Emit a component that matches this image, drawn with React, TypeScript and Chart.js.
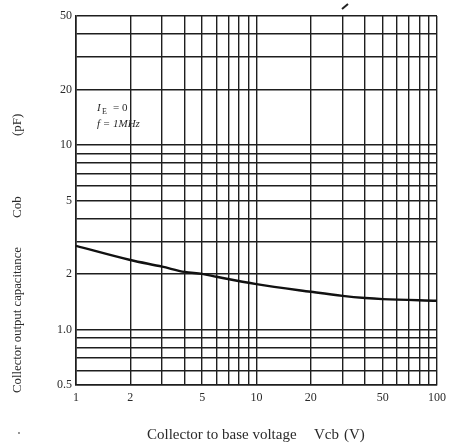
import React, { useEffect, useRef } from "react";
import { Chart, registerables } from "chart.js";

Chart.register(...registerables);

const vcb = [1, 2, 3, 4, 5, 6, 10, 20, 30, 40, 50, 100];
const cob = [2.84, 2.38, 2.19, 2.05, 2.0, 1.93, 1.76, 1.6, 1.52, 1.48, 1.46, 1.43];

const xGrid = [1, 2, 3, 4, 5, 6, 7, 8, 9, 10, 20, 30, 40, 50, 60, 70, 80, 90, 100];
const yGrid = [0.5, 0.6, 0.7, 0.8, 0.9, 1, 2, 3, 4, 5, 6, 7, 8, 9, 10, 20, 30, 40, 50];
const xLabels = ["1", "2", "5", "10", "20", "50", "100"];
const yLabels = ["0.5", "1.0", "2", "5", "10", "20", "50"];

const xTitleParts = ["Collector to base voltage", "Vcb", "(V)"];
const yTitleParts = ["Collector output capacitance", "Cob", "(pF)"];
const noteCond = "= 0";
const noteFreq = "f = 1MHz";

const SERIF = "'Liberation Serif', 'DejaVu Serif', serif";
const INK = "#1e1e1e";

const textPlugin = {
  id: "textPlugin",
  afterDraw(chart: any) {
    const { ctx } = chart;
    ctx.save();
    ctx.fillStyle = "#2a2a2a";
    ctx.textBaseline = "middle";
    ctx.textAlign = "left";
    // x title
    ctx.font = `15px ${SERIF}`;
    ctx.fillText(xTitleParts[0], 147, 435, 157);
    ctx.fillText(xTitleParts[1], 314, 435);
    ctx.fillText(xTitleParts[2], 344, 435);
    // y title
    ctx.save();
    ctx.translate(18, 0);
    ctx.rotate(-Math.PI / 2);
    ctx.font = `13px ${SERIF}`;
    ctx.fillText(yTitleParts[0], -393, 0, 146);
    ctx.fillText(yTitleParts[1], -218, 0);
    ctx.fillText(yTitleParts[2], -136, 0);
    ctx.restore();
    // annotation
    ctx.font = `italic 11px ${SERIF}`;
    ctx.fillText("I", 97, 108);
    ctx.font = `8px ${SERIF}`;
    ctx.fillText("E", 102, 112);
    ctx.font = `11px ${SERIF}`;
    ctx.fillText(noteCond, 113, 108);
    ctx.font = `italic 11px ${SERIF}`;
    ctx.fillText(noteFreq, 97, 124, 52);
    // scan marks
    ctx.strokeStyle = "#222";
    ctx.lineWidth = 2;
    ctx.beginPath();
    ctx.moveTo(342, 9);
    ctx.lineTo(348, 4);
    ctx.stroke();
    ctx.fillStyle = "#666";
    ctx.beginPath();
    ctx.arc(19, 433, 0.9, 0, Math.PI * 2);
    ctx.fill();
    ctx.restore();
  },
};

export default function App() {
  const ref = useRef<HTMLCanvasElement | null>(null);
  useEffect(() => {
    if (!ref.current) return;
    const chart = new Chart(ref.current, {
      type: "line",
      data: {
        datasets: [
          {
            data: vcb.map((x, i) => ({ x, y: cob[i] })),
            borderColor: "#111",
            borderWidth: 2.4,
            pointRadius: 0,
            cubicInterpolationMode: "monotone",
            fill: false,
          },
        ],
      },
      options: {
        animation: false,
        responsive: false,
        maintainAspectRatio: false,
        layout: { padding: { left: 0, right: 14, top: 16, bottom: 0 } },
        plugins: { legend: { display: false }, tooltip: { enabled: false } },
        scales: {
          x: {
            type: "logarithmic",
            min: 1,
            max: 100,
            afterBuildTicks: (s: any) => {
              s.ticks = xGrid.map((v) => ({ value: v }));
            },
            afterFit: (s: any) => {
              s.height = 59;
            },
            grid: { color: INK, lineWidth: 1.4, drawTicks: false },
            border: { color: INK, width: 1.6 },
            ticks: {
              autoSkip: false,
              maxRotation: 0,
              padding: 6,
              color: "#2a2a2a",
              font: { family: SERIF, size: 12 },
              callback: (v: any) => {
                const s = String(v);
                return xLabels.includes(s) ? s : "";
              },
            },
          },
          y: {
            type: "logarithmic",
            min: 0.5,
            max: 50,
            afterBuildTicks: (s: any) => {
              s.ticks = yGrid.map((v) => ({ value: v }));
            },
            afterFit: (s: any) => {
              s.width = 76;
            },
            grid: { color: INK, lineWidth: 1.4, drawTicks: false },
            border: { color: INK, width: 1.6 },
            ticks: {
              autoSkip: false,
              padding: 4,
              color: "#2a2a2a",
              font: { family: SERIF, size: 12 },
              callback: (v: any) => {
                const s = v === 1 ? "1.0" : String(v);
                return yLabels.includes(s) ? s : "";
              },
            },
          },
        },
      },
      plugins: [textPlugin],
    } as any);
    return () => chart.destroy();
  }, []);
  return (
    <div style={{ position: "absolute", left: 0, top: 0, width: 452, height: 444, background: "#fff" }}>
      <canvas ref={ref} width={452} height={444} style={{ width: 452, height: 444, display: "block" }} />
    </div>
  );
}
